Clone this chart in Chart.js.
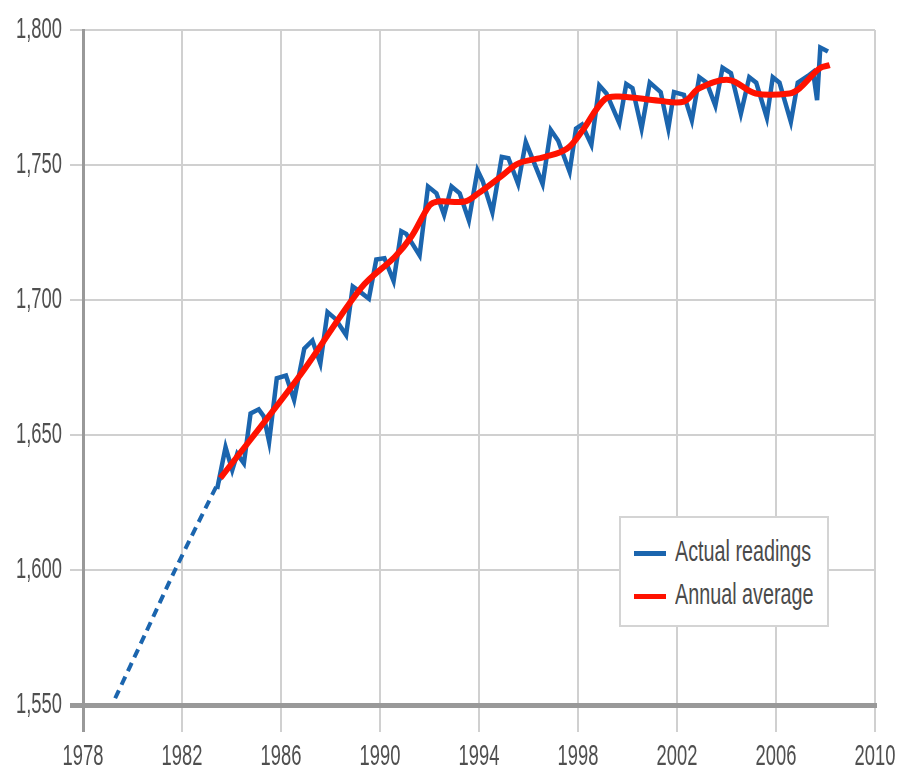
<!DOCTYPE html>
<html>
<head>
<meta charset="utf-8">
<script src="https://cdn.jsdelivr.net/npm/chart.js@4/dist/chart.umd.min.js"></script>
<style>
  html, body { margin: 0; padding: 0; background: #fff; }
  #wrap { position: relative; width: 898px; height: 772px; }
  #legend {
    position: absolute; left: 619px; top: 516px; width: 206px; height: 107px;
    border: 2px solid #d4d4d4; background: #fff;
    font-family: 'Liberation Sans', Arial, sans-serif;
    font-size: 26px; color: #4a4a4a;
  }
  .item { position: absolute; left: 13px; height: 30px; line-height: 30px; white-space: nowrap; }
  .item .sw { display: inline-block; width: 32px; height: 5px; vertical-align: middle; margin-right: 9px; }
  .item .tx { display: inline-block; transform: scale(0.76, 1.1); transform-origin: left center; }
</style>
</head>
<body>
<div id="wrap">
  <canvas id="methaneChart" width="898" height="772"></canvas>
  <div id="legend">
    <div class="item" style="top:18px"><span class="sw" style="background:#1b65ae"></span><span class="tx">Actual readings</span></div>
    <div class="item" style="top:61px"><span class="sw" style="background:#ff1200"></span><span class="tx">Annual average</span></div>
  </div>
</div>
<script>
// estimated (dashed) readings before the record starts
const estYears = [1979.3, 1980.5, 1981.72, 1983.55];
const estValues = [1552.5, 1576, 1600, 1634];

// actual readings
const actualYears = [
  1983.42, 1983.76, 1984.03, 1984.23, 1984.50, 1984.77, 1985.10, 1985.30, 1985.52, 1985.83,
  1986.20, 1986.53, 1986.94, 1987.27, 1987.59, 1987.88, 1988.20, 1988.63, 1988.90, 1989.20,
  1989.55, 1989.85, 1990.18, 1990.55, 1990.86, 1991.06, 1991.60, 1991.94, 1992.28, 1992.59,
  1992.89, 1993.22, 1993.59, 1993.94, 1994.15, 1994.54, 1994.92, 1995.19, 1995.58, 1995.89,
  1996.57, 1996.90, 1997.20, 1997.66, 1997.92, 1998.16, 1998.54, 1998.86, 1999.15, 1999.67,
  1999.95, 2000.20, 2000.57, 2000.90, 2001.34, 2001.65, 2001.88, 2002.28, 2002.60, 2002.90,
  2003.20, 2003.55, 2003.84, 2004.18, 2004.58, 2004.92, 2005.20, 2005.63, 2005.87, 2006.14,
  2006.60, 2006.88, 2007.29, 2007.50, 2007.66, 2007.79, 2008.10
];
const actualValues = [
  1630, 1645.5, 1637, 1643, 1639.5, 1658, 1659.5, 1657, 1647.5, 1671,
  1672, 1663, 1682, 1685, 1676.5, 1695.5, 1693, 1687, 1705, 1703,
  1700.5, 1715, 1715.5, 1707, 1725.5, 1724.5, 1716.5, 1742, 1739.5, 1731.5,
  1742, 1739.5, 1729.5, 1748, 1744, 1732.5, 1753, 1752.5, 1743, 1758.5,
  1743, 1763, 1759, 1747.5, 1763.5, 1765, 1757.5, 1779.5, 1776.5, 1765.5,
  1780, 1778.5, 1763.5, 1780.5, 1777, 1763.5, 1777, 1776, 1766.5, 1782.5,
  1780.5, 1772, 1786, 1784, 1769, 1782.5, 1780.5, 1767.5, 1782.5, 1780.5,
  1766, 1780.5, 1783, 1784.5, 1774, 1793.5, 1792
];

// annual average
const avgYears = [
  1983.55, 1986.8, 1989.24, 1990.6, 1991.27, 1992.0, 1992.34, 1993.43, 1993.97, 1994.92,
  1995.59, 1996.67, 1997.55, 1998.16, 1999.1, 1999.79, 2001.27, 2002.28, 2002.9, 2004.1,
  2005.18, 2006.54, 2006.95, 2007.76, 2008.17
];
const avgValues = [
  1634, 1672.5, 1704.5, 1716, 1723.5, 1735, 1736.5, 1736.5, 1739.5, 1746,
  1750.6, 1753, 1756, 1762.5, 1774.5, 1775.3, 1773.8, 1773.5, 1778.4, 1781.5,
  1776.5, 1776.5, 1778.4, 1785.8, 1787
];

const yTicks = [1550, 1600, 1650, 1700, 1750, 1800];
const xTicks = [1978, 1982, 1986, 1990, 1994, 1998, 2002, 2006, 2010];

function toPoints(xs, ys) {
  return xs.map((x, i) => ({ x: x, y: ys[i] }));
}

// the original uses a tall condensed face, so squeeze the tick labels a bit
const squeezeLabels = {
  id: "squeezeLabels",
  beforeDraw(chart) {
    Object.values(chart.scales).forEach(scale => {
      if (scale._squeezed) return;
      scale._squeezed = true;
      const orig = scale.drawLabels.bind(scale);
      scale.drawLabels = function(area) {
        const c = scale.ctx;
        const fill = c.fillText;
        c.fillText = function(text, x, y) {
          c.save();
          c.translate(x, y);
          c.scale(0.68, 1.12);
          fill.call(c, text, 0, 0);
          c.restore();
        };
        orig(area);
        delete c.fillText;
      };
    });
  }
};

const tickFont = { family: "'Liberation Sans', Arial, sans-serif", size: 27 };

const ctx = document.getElementById("methaneChart").getContext("2d");
const methaneChart = new Chart(ctx, {
  type: "line",
  data: {
    datasets: [
      {
        label: "Annual average",
        data: toPoints(avgYears, avgValues),
        borderColor: "#ff1200",
        borderWidth: 6,
        tension: 0.35,
        pointRadius: 0,
        order: 0
      },
      {
        label: "Actual readings",
        data: toPoints(actualYears, actualValues),
        borderColor: "#1b65ae",
        borderWidth: 4.5,
        tension: 0,
        pointRadius: 0,
        order: 1
      },
      {
        label: "Estimate",
        data: toPoints(estYears, estValues),
        borderColor: "#1b65ae",
        borderWidth: 4,
        borderDash: [9, 6],
        tension: 0.3,
        pointRadius: 0,
        order: 2
      }
    ]
  },
  plugins: [squeezeLabels],
  options: {
    responsive: false,
    animation: false,
    layout: { padding: { top: 30, right: 23, left: 0, bottom: 0 } },
    plugins: {
      legend: { display: false },
      tooltip: { enabled: false }
    },
    scales: {
      x: {
        type: "linear",
        min: 1978,
        max: 2010,
        afterBuildTicks: (scale) => { scale.ticks = xTicks.map(v => ({ value: v })); },
        afterFit: (scale) => { scale.height = 67; scale.paddingLeft = 0; scale.paddingRight = 0; },
        ticks: {
          font: tickFont,
          color: "#4f4f4f",
          padding: 8,
          maxRotation: 0,
          callback: (v) => String(v)
        },
        grid: {
          color: (c) => c.tick && c.tick.value === 1978 ? "#999" : "#d0d0d0",
          lineWidth: (c) => c.tick && c.tick.value === 1978 ? 3 : 2,
          tickLength: 27
        },
        border: { display: true, color: "#999", width: 5 }
      },
      y: {
        min: 1550,
        max: 1800,
        afterBuildTicks: (scale) => { scale.ticks = yTicks.map(v => ({ value: v })); },
        afterFit: (scale) => { scale.width = 83; scale.paddingTop = 0; scale.paddingBottom = 0; },
        ticks: {
          font: tickFont,
          color: "#4f4f4f",
          padding: 8
        },
        grid: {
          color: (c) => c.tick && c.tick.value === 1550 ? "#999" : "#d0d0d0",
          lineWidth: (c) => c.tick && c.tick.value === 1550 ? 5 : 2,
          tickLength: 13
        },
        border: { display: true, color: "#999", width: 3 }
      }
    }
  }
});
</script>
</body>
</html>
